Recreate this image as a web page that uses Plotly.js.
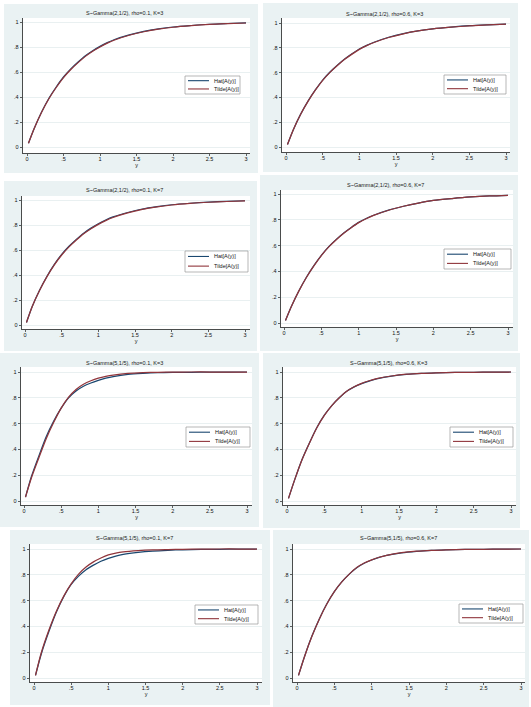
<!DOCTYPE html>
<html>
<head>
<meta charset="utf-8">
<script src="https://cdn.plot.ly/plotly-3.0.1.min.js"></script>
<style>
  html, body { margin: 0; padding: 0; background: #ffffff; }
  #chart { width: 531px; height: 707px; }
</style>
</head>
<body>
<div id="chart"></div>
<script>
// ---- data ----
const yValues = [0.02, 0.1, 0.2, 0.3, 0.4, 0.5, 0.6, 0.7, 0.8, 0.9, 1.0, 1.1, 1.2, 1.4, 1.6, 1.8, 2.0, 2.25, 2.5, 2.75, 3.0];

const panelTitles = [
  "S~Gamma(2,1/2), rho=0.1, K=3",
  "S~Gamma(2,1/2), rho=0.6, K=3",
  "S~Gamma(2,1/2), rho=0.1, K=7",
  "S~Gamma(2,1/2), rho=0.6, K=7",
  "S~Gamma(5,1/5), rho=0.1, K=3",
  "S~Gamma(5,1/5), rho=0.6, K=3",
  "S~Gamma(5,1/5), rho=0.1, K=7",
  "S~Gamma(5,1/5), rho=0.6, K=7"
];

const seriesNames = ["Hat[A(y)]", "Tilde[A(y)]"];

const hat1   = [0.03, 0.15, 0.28, 0.39, 0.48, 0.56, 0.625, 0.68, 0.73, 0.77, 0.805, 0.835, 0.86, 0.897, 0.925, 0.945, 0.96, 0.972, 0.982, 0.988, 0.993];
const tilde1 = [0.03, 0.15, 0.278, 0.386, 0.476, 0.555, 0.62, 0.675, 0.725, 0.766, 0.80, 0.831, 0.856, 0.894, 0.922, 0.943, 0.958, 0.971, 0.981, 0.987, 0.992];

const hat2   = [0.02, 0.14, 0.265, 0.37, 0.46, 0.54, 0.605, 0.66, 0.71, 0.752, 0.79, 0.82, 0.845, 0.885, 0.915, 0.937, 0.953, 0.967, 0.978, 0.985, 0.991];
const tilde2 = [0.02, 0.14, 0.264, 0.368, 0.458, 0.537, 0.602, 0.657, 0.707, 0.749, 0.787, 0.818, 0.843, 0.883, 0.913, 0.936, 0.952, 0.966, 0.977, 0.985, 0.991];

const hat3   = [0.02, 0.15, 0.28, 0.39, 0.485, 0.565, 0.63, 0.685, 0.735, 0.775, 0.81, 0.84, 0.865, 0.90, 0.928, 0.947, 0.962, 0.974, 0.983, 0.989, 0.994];
const tilde3 = [0.02, 0.15, 0.278, 0.387, 0.481, 0.56, 0.625, 0.68, 0.73, 0.77, 0.805, 0.835, 0.86, 0.897, 0.925, 0.945, 0.96, 0.973, 0.982, 0.988, 0.993];

const hat4   = [0.02, 0.13, 0.25, 0.355, 0.445, 0.525, 0.592, 0.648, 0.698, 0.741, 0.78, 0.81, 0.835, 0.875, 0.905, 0.93, 0.95, 0.965, 0.977, 0.985, 0.99];
const tilde4 = [0.02, 0.13, 0.249, 0.353, 0.443, 0.523, 0.59, 0.646, 0.696, 0.739, 0.778, 0.808, 0.834, 0.874, 0.905, 0.93, 0.95, 0.965, 0.977, 0.985, 0.99];

const hat5   = [0.03, 0.19, 0.35, 0.50, 0.62, 0.72, 0.80, 0.853, 0.89, 0.915, 0.935, 0.952, 0.965, 0.982, 0.99, 0.995, 0.997, 0.998, 0.999, 0.999, 1.0];
const tilde5 = [0.03, 0.18, 0.335, 0.485, 0.61, 0.72, 0.805, 0.865, 0.905, 0.932, 0.952, 0.966, 0.976, 0.989, 0.995, 0.998, 0.999, 1.0, 1.0, 1.0, 1.0];

const hat6   = [0.02, 0.16, 0.32, 0.45, 0.57, 0.665, 0.74, 0.80, 0.85, 0.885, 0.91, 0.93, 0.946, 0.968, 0.982, 0.99, 0.994, 0.997, 0.998, 0.999, 1.0];
const tilde6 = [0.02, 0.16, 0.318, 0.448, 0.568, 0.664, 0.74, 0.80, 0.851, 0.886, 0.912, 0.932, 0.948, 0.969, 0.983, 0.99, 0.994, 0.997, 0.998, 0.999, 1.0];

const hat7   = [0.02, 0.19, 0.36, 0.51, 0.63, 0.725, 0.79, 0.84, 0.875, 0.905, 0.928, 0.945, 0.958, 0.974, 0.984, 0.99, 0.994, 0.997, 0.998, 0.999, 1.0];
const tilde7 = [0.02, 0.2, 0.37, 0.515, 0.635, 0.73, 0.805, 0.86, 0.9, 0.93, 0.954, 0.968, 0.977, 0.987, 0.993, 0.996, 0.998, 0.999, 1.0, 1.0, 1.0];

const hat8   = [0.02, 0.165, 0.325, 0.46, 0.575, 0.67, 0.745, 0.805, 0.855, 0.89, 0.915, 0.935, 0.95, 0.97, 0.982, 0.99, 0.994, 0.997, 0.998, 0.999, 1.0];
const tilde8 = [0.02, 0.165, 0.323, 0.458, 0.574, 0.669, 0.745, 0.805, 0.856, 0.891, 0.916, 0.936, 0.951, 0.971, 0.983, 0.99, 0.994, 0.997, 0.998, 0.999, 1.0];

const hatSeries   = [hat1, hat2, hat3, hat4, hat5, hat6, hat7, hat8];
const tildeSeries = [tilde1, tilde2, tilde3, tilde4, tilde5, tilde6, tilde7, tilde8];

const xTickVals = [0, 0.5, 1, 1.5, 2, 2.5, 3];
const xTickText = ["0", ".5", "1", "1.5", "2", "2.5", "3"];
const yTickVals = [0, 0.2, 0.4, 0.6, 0.8, 1];
const yTickText = ["0", ".2", ".4", ".6", ".8", "1"];

// ---- page geometry (pixels) ----
const W = 531, H = 707;
// bg: graph region, plot: white plot region, tx/ty: pixel of tick 0 / 3 (x) and 1 / 0 (y),
// title: title centre, leg: legend box
const frames = [
  { bg: [4, 4, 258, 173],    plot: [23, 18, 250, 153],   tx: [27, 246],  ty: [22, 147],  title: [124, 13],  leg: [185, 76, 240, 94] },
  { bg: [263, 3, 518, 172],  plot: [282, 18, 510, 152],  tx: [286, 506], ty: [23, 147],  title: [384, 14],  leg: [444, 75, 506, 94] },
  { bg: [4, 181, 257, 351],  plot: [22, 196, 250, 329],  tx: [25, 245],  ty: [200, 325], title: [124, 190], leg: [185, 251, 248, 272] },
  { bg: [260, 175, 518, 351],plot: [281, 190, 513, 327], tx: [284, 508], ty: [194, 323], title: [385, 185], leg: [444, 249, 511, 269] },
  { bg: [0, 353, 259, 527],  plot: [21, 367, 252, 505],  tx: [24, 247],  ty: [372, 501], title: [124, 363], leg: [186, 427, 250, 447] },
  { bg: [263, 353, 520, 528],plot: [283, 367, 516, 505], tx: [287, 511], ty: [372, 501], title: [388, 363], leg: [450, 427, 513, 447] },
  { bg: [10, 530, 270, 705], plot: [30, 544, 262, 682],  tx: [34, 257],  ty: [549, 678], title: [134, 538], leg: [195, 605, 258, 624] },
  { bg: [273, 530, 529, 707],plot: [293, 544, 525, 682], tx: [297, 521], ty: [549, 678], title: [398, 538], leg: [459, 604, 523, 623] }
];

const BG = "#eaf2f3";
const HAT_COLOR = "#1a476f";
const TILDE_COLOR = "#90353b";
const FONT = "Liberation Sans, Arial, sans-serif";
const FS = 5.5;

const px = x => x / W;
const py = y => 1 - y / H;

const traces = [];
const shapes = [];
const annotations = [];
const layout = {
  width: W, height: H,
  margin: { l: 0, r: 0, t: 0, b: 0, pad: 0 },
  paper_bgcolor: "#ffffff",
  plot_bgcolor: "rgba(0,0,0,0)",
  showlegend: false,
  font: { family: FONT, size: FS, color: "#111" }
};

frames.forEach((f, i) => {
  const n = i === 0 ? "" : String(i + 1);
  const xName = "x" + n, yName = "y" + n;

  const ppuX = (f.tx[1] - f.tx[0]) / 3;
  const ppuY = f.ty[1] - f.ty[0];
  const xRange = [-(f.tx[0] - f.plot[0]) / ppuX, 3 + (f.plot[2] - f.tx[1]) / ppuX];
  const yRange = [-(f.plot[3] - f.ty[1]) / ppuY, 1 + (f.ty[0] - f.plot[1]) / ppuY];

  layout["xaxis" + n] = {
    domain: [px(f.plot[0]), px(f.plot[2])],
    anchor: yName, range: xRange, fixedrange: true,
    showline: true, linecolor: "#222", linewidth: 0.8,
    showgrid: false, zeroline: false,
    ticks: "outside", ticklen: 2.5, tickwidth: 0.7, tickcolor: "#222",
    ticklabelstandoff: -2,
    tickmode: "array", tickvals: xTickVals, ticktext: xTickText,
    tickfont: { family: FONT, size: FS, color: "#111" },
    title: { text: "y", font: { family: FONT, size: FS, color: "#111" }, standoff: 0 }
  };
  layout["yaxis" + n] = {
    domain: [py(f.plot[3]), py(f.plot[1])],
    anchor: xName, range: yRange, fixedrange: true,
    showline: true, linecolor: "#222", linewidth: 0.8,
    showgrid: true, gridcolor: "#e3ecee", gridwidth: 0.8, zeroline: false,
    ticks: "outside", ticklen: 2.5, tickwidth: 0.7, tickcolor: "#222",
    tickmode: "array", tickvals: yTickVals, ticktext: yTickText,
    tickfont: { family: FONT, size: FS, color: "#111" }
  };

  // graph region and white plot region
  shapes.push({ type: "rect", xref: "paper", yref: "paper", layer: "below",
    x0: px(f.bg[0]), x1: px(f.bg[2]), y0: py(f.bg[3]), y1: py(f.bg[1]),
    fillcolor: BG, line: { width: 0 } });
  shapes.push({ type: "rect", xref: "paper", yref: "paper", layer: "below",
    x0: px(f.plot[0]), x1: px(f.plot[2]), y0: py(f.plot[3]), y1: py(f.plot[1]),
    fillcolor: "#ffffff", line: { width: 0 } });

  traces.push({
    type: "scatter", mode: "lines", name: seriesNames[0],
    x: yValues, y: hatSeries[i], xaxis: xName, yaxis: yName,
    line: { color: HAT_COLOR, width: 1.25, shape: "spline", smoothing: 0.8 },
    hoverinfo: "skip"
  });
  traces.push({
    type: "scatter", mode: "lines", name: seriesNames[1],
    x: yValues, y: tildeSeries[i], xaxis: xName, yaxis: yName,
    line: { color: TILDE_COLOR, width: 1.25, shape: "spline", smoothing: 0.8 },
    hoverinfo: "skip"
  });

  // panel title
  annotations.push({ xref: "paper", yref: "paper", x: px(f.title[0]), y: py(f.title[1]),
    xanchor: "center", yanchor: "middle", showarrow: false, text: panelTitles[i],
    font: { family: FONT, size: FS, color: "#222" } });

  // legend box with two keys
  const [lx0, ly0, lx1, ly1] = f.leg;
  const lh = ly1 - ly0;
  shapes.push({ type: "rect", xref: "paper", yref: "paper", layer: "above",
    x0: px(lx0), x1: px(lx1), y0: py(ly1), y1: py(ly0),
    fillcolor: "#ffffff", line: { color: "#9a9a9a", width: 0.7 } });
  [HAT_COLOR, TILDE_COLOR].forEach((c, k) => {
    const ry = ly0 + lh * (k === 0 ? 0.26 : 0.72);
    shapes.push({ type: "line", xref: "paper", yref: "paper", layer: "above",
      x0: px(lx0 + 3), x1: px(lx0 + 24), y0: py(ry), y1: py(ry),
      line: { color: c, width: 1.1 } });
    annotations.push({ xref: "paper", yref: "paper", x: px(lx0 + 27), y: py(ry),
      xanchor: "left", yanchor: "middle", showarrow: false, text: seriesNames[k],
      font: { family: FONT, size: FS, color: "#111" } });
  });
});

layout.shapes = shapes;
layout.annotations = annotations;

Plotly.newPlot("chart", traces, layout, { staticPlot: true, displayModeBar: false });
</script>
</body>
</html>
